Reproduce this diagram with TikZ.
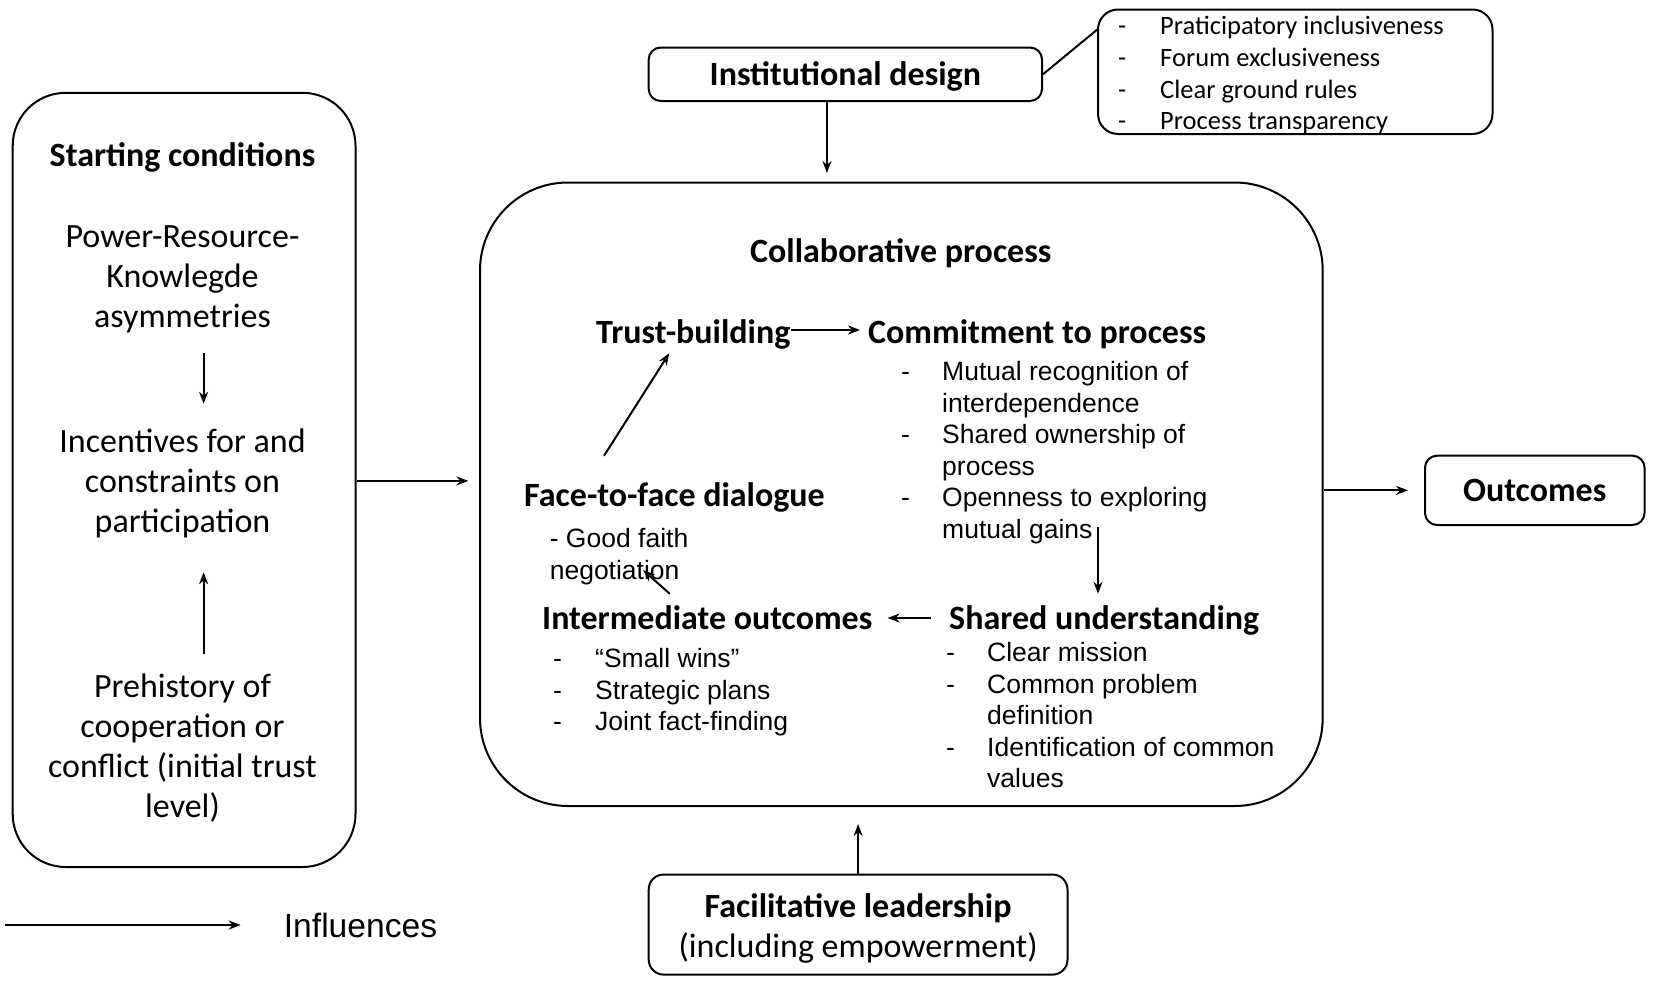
\documentclass[tikz,border=0pt]{standalone}
\usepackage{fontspec}
\usetikzlibrary{arrows.meta}
\newfontfamily\fcal{Carlito}
\newfontfamily\fari{Liberation Sans}
\newcommand\fsA{\fcal\fontsize{34}{40}\selectfont}
\newcommand\fsB{\fcal\bfseries\fontsize{34}{40}\selectfont}
\newcommand\fsC{\fari\fontsize{26.5}{31.6}\selectfont}
\newcommand\fsD{\fcal\fontsize{26.5}{31.6}\selectfont}
\newcommand\fsE{\fari\fontsize{33.6}{40}\selectfont}
\newcommand\mytab[2]{\begin{tabular}{@{}#1@{}}#2\end{tabular}}
\tikzset{
  box/.style={draw, line width=2pt, inner sep=0pt},
  head/.style={inner sep=0pt, font=\fsB, text height=28pt, text depth=12pt},
  body/.style={inner sep=0pt, font=\fsA},
  lst/.style={inner sep=0pt, font=\fsC, anchor=north west},
  arr/.style={line width=2pt, -{Stealth[length=12pt,width=9pt]}},
  plain/.style={line width=2pt}
}
\begin{document}
\begin{tikzpicture}[x=1pt,y=-1pt]
\useasboundingbox (0,0) rectangle (1654,985);
\fill[white] (0,0) rectangle (1654,985);

% Starting conditions
\node[box, rounded corners=53pt, minimum width=342.8pt, minimum height=774.2pt] (start) at (184.1,479.9) {};
\node[head] (sc) at (182.5,158) {Starting conditions};
\node[body] (pr) at (182.5,279.4) {\mytab{c}{Power-Resource-\\Knowlegde\\asymmetries}};
\node[body] (inc) at (182.5,484) {\mytab{c}{Incentives for and\\constraints on\\participation}};
\node[body] (pre) at (182.5,749.5) {\mytab{c}{Prehistory of\\cooperation or\\conflict (initial trust\\level)}};
\draw[arr, shorten <=13.6pt, shorten >=20pt] ([xshift=21.1pt]pr.south) -- ([xshift=21.1pt]inc.north);
\draw[arr, shorten <=15.5pt, shorten >=28pt] ([xshift=21.1pt]pre.north) -- ([xshift=21.1pt]inc.south);

% Collaborative process
\node[box, rounded corners=88pt, minimum width=842.7pt, minimum height=623.5pt] (collab) at (901.35,494.25) {};
\node[head] (cp) at (900.8,254) {Collaborative process};
\node[head, anchor=west] (trust) at (596,335) {Trust-building};
\node[head, anchor=west] (commit) at (868,335) {Commitment to process};
\node[lst] (clist) at (901,358.2) {\mytab{p{41pt}@{}l}{-&Mutual recognition of\\&interdependence\\-&Shared ownership of\\&process\\-&Openness to exploring\\&mutual gains}};
\node[head, anchor=west] (face) at (524,498.8) {Face-to-face dialogue};
\node[lst] (gf) at (549.6,525.2) {\mytab{l}{- Good faith\\negotiation}};
\node[head, anchor=west] (inter) at (542,621) {Intermediate outcomes};
\node[lst] (ilist) at (553,645.2) {\mytab{p{42pt}@{}l}{-&“Small wins”\\-&Strategic plans\\-&Joint fact-finding}};
\node[head, anchor=west] (shared) at (949,621) {Shared understanding};
\node[lst] (slist) at (946,639.2) {\mytab{p{41pt}@{}l}{-&Clear mission\\-&Common problem\\&definition\\-&Identification of common\\&values}};

\draw[arr, shorten >=8pt] ([yshift=5pt]trust.east) -- ([yshift=5pt]commit.west);
\draw[arr] ([xshift=197pt,yshift=20.8pt]clist.south west) -- ([xshift=149pt,yshift=7pt]shared.north west);
\draw[arr, shorten <=17.6pt, shorten >=15pt] ([yshift=3pt]shared.west) -- ([yshift=3pt]inter.east);
\draw[arr] ([xshift=-37.5pt,yshift=7pt]inter.north) -- ([xshift=93.4pt,yshift=18.8pt]gf.south west);
\draw[arr] ([xshift=-70.5pt,yshift=22.8pt]face.north) -- ([xshift=-24pt,yshift=2pt]trust.south);

% Institutional design
\node[box, rounded corners=12pt, minimum width=393.3pt, minimum height=53.5pt, font=\fsB, text height=31pt, text depth=9pt] (inst) at (845.35,74.25) {Institutional design};
\node[box, rounded corners=20pt, minimum width=394.5pt, minimum height=124.5pt] (dlist) at (1295.25,71.75) {};
\node[lst, font=\fsD] (dtext) at (1118,12.5) {\mytab{p{42pt}@{}l}{-&Praticipatory inclusiveness\\-&Forum exclusiveness\\-&Clear ground rules\\-&Process transparency}};
\draw[plain] (inst.east) -- ([yshift=42pt]dlist.west);
\draw[arr, shorten >=8.5pt] ([xshift=-18.4pt]inst.south) -- ([xshift=-18.4pt]inst.south |- collab.north);

% Outcomes
\node[box, rounded corners=12pt, minimum width=219.5pt, minimum height=69.3pt, font=\fsB, text height=31pt, text depth=9pt] (out) at (1534.75,490.35) {Outcomes};
\draw[arr, shorten >=16pt] (out.west -| collab.east) -- (out.west);

% Connector from starting conditions
\draw[arr, shorten >=10.6pt] ([yshift=-1pt]start.east) -- ([yshift=-1pt]start.east -| collab.west);

% Facilitative leadership
\node[box, rounded corners=15pt, minimum width=418.8pt, minimum height=100.1pt, font=\fsA] (facil) at (858.1,924.55) {\raisebox{-4.5pt}[\height][\depth]{\mytab{c}{\textbf{Facilitative leadership}\\(including empowerment)}}};
\draw[arr, shorten >=17pt] (facil.north) -- (facil.north |- collab.south);

% Legend
\coordinate (legA) at (5.3,925);
\node[inner sep=0pt, font=\fsE, anchor=west, text height=28pt, text depth=12pt] (infl) at (283.7,929) {Influences};
\draw[arr] (legA) -- ([xshift=-43pt,yshift=4pt]infl.west);
\end{tikzpicture}
\end{document}
